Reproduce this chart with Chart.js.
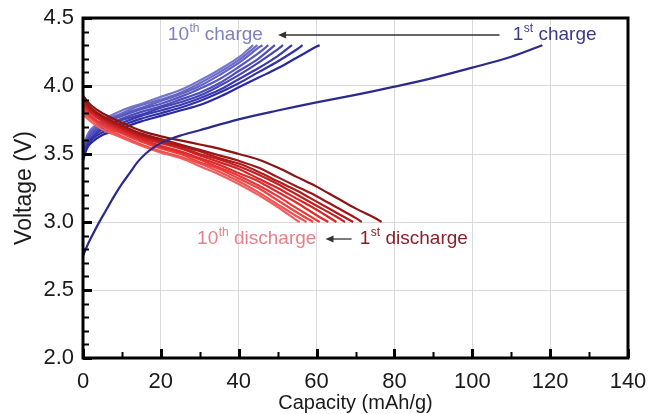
<!DOCTYPE html>
<html>
<head>
<meta charset="utf-8">
<script src="https://cdn.jsdelivr.net/npm/chart.js@4"></script>
<style>
  html, body { margin: 0; padding: 0; background: #fff; }
</style>
</head>
<body>
<canvas id="chart" width="648" height="414"></canvas>
<script>
// capacities (mAh/g) where the curves were read
const chargeCap = [0, 1, 2, 5, 10, 15, 20, 25, 30, 35, 40, 45, 50, 55, 60];
const dischargeCap = [0, 2, 5, 10, 15, 20, 25, 30, 35, 40, 45, 50, 55, 60, 65, 70, 75];

// 1st charge has its own points (long curve)
const charge01Cap = [0, 1, 2, 4, 6, 8, 10, 12, 14, 16, 18, 20, 22, 25, 30, 40, 50, 60, 70, 80, 90, 100, 110, 118];
const charge01V = [2.75, 2.82, 2.88, 2.99, 3.09, 3.19, 3.28, 3.36, 3.44, 3.50, 3.545, 3.58, 3.605, 3.635, 3.675, 3.755, 3.82, 3.88, 3.935, 3.995, 4.06, 4.135, 4.215, 4.3];

// cycles 2..10, voltage at chargeCap, curve ends at the cut-off voltage
const charge02V = [3.45, 3.54, 3.58, 3.64, 3.69, 3.74, 3.78, 3.82, 3.86, 3.92, 3.99, 4.06, 4.13, 4.21, 4.29];
const charge03V = [3.47, 3.55, 3.60, 3.66, 3.71, 3.76, 3.80, 3.84, 3.89, 3.95, 4.02, 4.10, 4.18, 4.27];
const charge04V = [3.48, 3.56, 3.61, 3.68, 3.73, 3.78, 3.82, 3.86, 3.91, 3.97, 4.05, 4.13, 4.22];
const charge05V = [3.50, 3.58, 3.62, 3.69, 3.75, 3.79, 3.84, 3.88, 3.93, 4.00, 4.08, 4.17, 4.27];
const charge06V = [3.51, 3.59, 3.64, 3.70, 3.76, 3.81, 3.85, 3.90, 3.95, 4.02, 4.11, 4.20];
const charge07V = [3.52, 3.60, 3.65, 3.72, 3.78, 3.83, 3.87, 3.92, 3.98, 4.05, 4.14, 4.24];
const charge08V = [3.53, 3.61, 3.66, 3.73, 3.79, 3.84, 3.89, 3.94, 4.00, 4.08, 4.17, 4.28];
const charge09V = [3.54, 3.62, 3.67, 3.74, 3.80, 3.86, 3.90, 3.95, 4.02, 4.10, 4.19];
const charge10V = [3.55, 3.63, 3.68, 3.75, 3.82, 3.87, 3.92, 3.97, 4.04, 4.12, 4.21];
const chargeEnd = [60.8, 56.4, 53.7, 51.4, 49.3, 47.6, 46.1, 44.8, 43.7];
const chargeCutoff = 4.3;

// cycles 1..10, voltage at dischargeCap, curve ends at the cut-off voltage
const discharge01V = [3.93, 3.86, 3.80, 3.73, 3.67, 3.63, 3.60, 3.57, 3.54, 3.50, 3.46, 3.40, 3.33, 3.26, 3.18, 3.10, 3.03];
const discharge02V = [3.91, 3.84, 3.78, 3.71, 3.65, 3.61, 3.57, 3.53, 3.49, 3.45, 3.40, 3.33, 3.26, 3.19, 3.11, 3.03];
const discharge03V = [3.90, 3.83, 3.77, 3.70, 3.64, 3.60, 3.56, 3.52, 3.47, 3.43, 3.37, 3.30, 3.23, 3.15, 3.07];
const discharge04V = [3.88, 3.82, 3.76, 3.69, 3.63, 3.59, 3.55, 3.50, 3.46, 3.41, 3.35, 3.28, 3.20, 3.12, 3.04];
const discharge05V = [3.87, 3.81, 3.75, 3.68, 3.62, 3.58, 3.54, 3.49, 3.44, 3.39, 3.32, 3.25, 3.17, 3.09];
const discharge06V = [3.86, 3.80, 3.74, 3.67, 3.61, 3.56, 3.52, 3.47, 3.42, 3.36, 3.30, 3.22, 3.14, 3.05];
const discharge07V = [3.84, 3.78, 3.72, 3.66, 3.60, 3.55, 3.51, 3.46, 3.40, 3.34, 3.27, 3.19, 3.10];
const discharge08V = [3.83, 3.77, 3.71, 3.65, 3.59, 3.54, 3.50, 3.44, 3.39, 3.32, 3.25, 3.16, 3.07];
const discharge09V = [3.81, 3.76, 3.70, 3.63, 3.57, 3.52, 3.48, 3.43, 3.37, 3.30, 3.22, 3.13, 3.04];
const discharge10V = [3.79, 3.74, 3.68, 3.62, 3.56, 3.51, 3.47, 3.41, 3.35, 3.28, 3.20, 3.11, 3.01];
const dischargeEnd = [76.7, 71.6, 69.4, 67.3, 65.1, 63.0, 60.8, 59.1, 57.4, 55.7];
const dischargeCutoff = 3.0;

const chargeColors = ['#2a2a8e', '#2828a2', '#3131a8', '#3a3aae', '#4444b4', '#4e4eb9', '#5858be', '#6262c3', '#6c6cc8', '#7676cc'];
const dischargeColors = ['#8a1515', '#9d1717', '#b01b1b', '#c22020', '#d32626', '#df2c2c', '#e73636', '#eb4444', '#ee5252', '#f16060'];

const FONT = "'Liberation Sans', Arial, sans-serif";

function curve(caps, volts, endCap, endV) {
  const pts = volts.map((v, i) => ({ x: caps[i], y: v }));
  if (endCap !== undefined) pts.push({ x: endCap, y: endV });
  return pts;
}

const chargeSets = [charge02V, charge03V, charge04V, charge05V, charge06V, charge07V, charge08V, charge09V, charge10V];
const dischargeSets = [discharge01V, discharge02V, discharge03V, discharge04V, discharge05V,
  discharge06V, discharge07V, discharge08V, discharge09V, discharge10V];

const datasets = [];
datasets.push({ label: 'charge 1', data: curve(charge01Cap, charge01V), borderColor: chargeColors[0], order: 0 });
dischargeSets.forEach((v, i) => {
  datasets.push({ label: 'discharge ' + (i + 1), data: curve(dischargeCap, v, dischargeEnd[i], dischargeCutoff),
    borderColor: dischargeColors[i], order: 1 + i });
});
chargeSets.forEach((v, i) => {
  datasets.push({ label: 'charge ' + (i + 2), data: curve(chargeCap, v, chargeEnd[i], chargeCutoff),
    borderColor: chargeColors[i + 1], order: 20 + i });
});

// text with a superscript ordinal, e.g. 10 + th + " charge"
function supText(ctx, x, y, num, sup, rest, color) {
  ctx.fillStyle = color;
  ctx.textBaseline = 'middle';
  ctx.textAlign = 'left';
  ctx.font = '19px ' + FONT;
  ctx.fillText(num, x, y);
  x += ctx.measureText(num).width + 0.5;
  ctx.font = '12px ' + FONT;
  ctx.fillText(sup, x, y - 6);
  x += ctx.measureText(sup).width;
  ctx.font = '19px ' + FONT;
  ctx.fillText(' ' + rest, x, y);
}

function arrowLeft(ctx, x1, x2, y) {
  ctx.strokeStyle = '#333';
  ctx.fillStyle = '#333';
  ctx.lineWidth = 1.3;
  ctx.beginPath();
  ctx.moveTo(x1, y);
  ctx.lineTo(x2 + 5, y);
  ctx.stroke();
  ctx.beginPath();
  ctx.moveTo(x2, y);
  ctx.lineTo(x2 + 8, y - 3.5);
  ctx.lineTo(x2 + 8, y + 3.5);
  ctx.closePath();
  ctx.fill();
}

const framePlugin = {
  id: 'frame',
  afterDatasetsDraw(chart) {
    const { ctx, chartArea: a, scales: { x, y } } = chart;
    ctx.save();
    // tick marks, inside, left and bottom only
    ctx.strokeStyle = '#000';
    for (let i = 0; i <= 25; i++) {
      const v = 2 + i * 0.1;
      const major = i % 5 === 0;
      const py = Math.round(y.getPixelForValue(v)) + 0.5;
      ctx.lineWidth = major ? 3 : 2;
      ctx.beginPath();
      ctx.moveTo(a.left, py);
      ctx.lineTo(a.left + (major ? 9 : 6), py);
      ctx.stroke();
    }
    for (let i = 0; i <= 14; i++) {
      const v = i * 10;
      const major = i % 2 === 0;
      const px = Math.round(x.getPixelForValue(v)) + 0.5;
      ctx.lineWidth = major ? 3 : 2;
      ctx.beginPath();
      ctx.moveTo(px, a.bottom);
      ctx.lineTo(px, a.bottom - (major ? 9 : 6));
      ctx.stroke();
    }
    ctx.lineWidth = 3;
    ctx.strokeRect(a.left, a.top, a.right - a.left, a.bottom - a.top);

    // annotations
    const cy = y.getPixelForValue(4.375);
    supText(ctx, x.getPixelForValue(21.8), cy, '10', 'th', 'charge', '#7f7fc4');
    supText(ctx, x.getPixelForValue(110.4), cy, '1', 'st', 'charge', '#3a3a8c');
    arrowLeft(ctx, x.getPixelForValue(107.0), x.getPixelForValue(50.1), cy);
    const dy = y.getPixelForValue(2.875);
    supText(ctx, x.getPixelForValue(29.3), dy, '10', 'th', 'discharge', '#e6808b');
    supText(ctx, x.getPixelForValue(71.1), dy, '1', 'st', 'discharge', '#8a1f2a');
    arrowLeft(ctx, x.getPixelForValue(69.0), x.getPixelForValue(62.3), dy);
    ctx.restore();
  }
};

const tickFont = { family: FONT, size: 22 };

new Chart(document.getElementById('chart'), {
  type: 'line',
  data: { datasets },
  options: {
    responsive: false,
    animation: false,
    devicePixelRatio: 1,
    layout: { padding: { top: 18, right: 20, left: 0, bottom: 0 } },
    plugins: { legend: { display: false }, tooltip: { enabled: false } },
    elements: {
      point: { radius: 0 },
      line: { borderWidth: 2.2, tension: 0.35, fill: false }
    },
    scales: {
      x: {
        type: 'linear', min: 0, max: 140,
        ticks: { stepSize: 20, padding: 11, font: tickFont, color: '#1a1a1a', maxRotation: 0, autoSkip: false },
        grid: { color: '#dadada', drawTicks: false },
        border: { display: false },
        title: { display: true, text: 'Capacity (mAh/g)', font: { family: FONT, size: 20, lineHeight: 1.1 },
          color: '#1a1a1a', padding: { top: 0, bottom: 0 } },
        afterFit(s) { s.height = 56; s.paddingLeft = 0; s.paddingRight = 0; }
      },
      y: {
        type: 'linear', min: 2, max: 4.5,
        ticks: { stepSize: 0.5, padding: 9, font: tickFont, color: '#1a1a1a', callback: v => v.toFixed(1) },
        grid: { color: '#dadada', drawTicks: false },
        border: { display: false },
        title: { display: true, text: 'Voltage (V)', font: { family: FONT, size: 23, lineHeight: 1.1 },
          color: '#1a1a1a', padding: { top: 12, bottom: 0 } },
        afterFit(s) { s.width = 83; s.paddingTop = 0; s.paddingBottom = 0; }
      }
    }
  },
  plugins: [framePlugin]
});
</script>
</body>
</html>
